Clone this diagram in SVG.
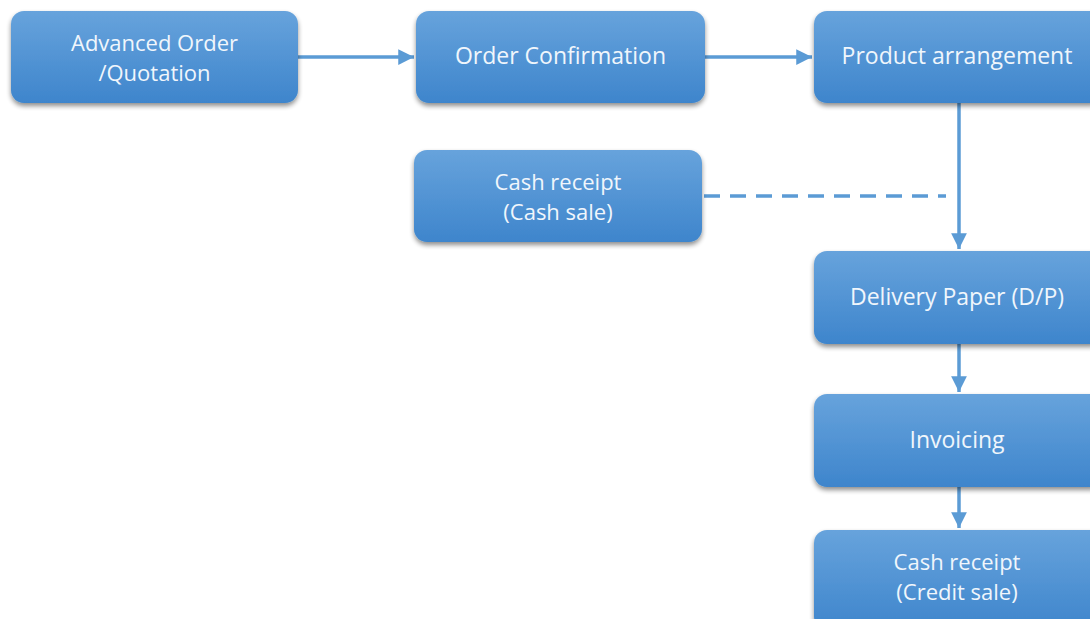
<svg xmlns="http://www.w3.org/2000/svg" width="1090" height="619" viewBox="0 0 1090 619">
<defs>
<linearGradient id="g" x1="0" y1="0" x2="0" y2="1">
<stop offset="0" stop-color="#67a3dc"/>
<stop offset="1" stop-color="#3e85cc"/>
</linearGradient>
<filter id="sh" x="-10%" y="-10%" width="120%" height="140%">
<feGaussianBlur in="SourceAlpha" stdDeviation="2.5"/>
<feOffset dx="0" dy="3" result="b"/>
<feComponentTransfer><feFuncA type="linear" slope="0.45"/></feComponentTransfer>
<feMerge><feMergeNode/><feMergeNode in="SourceGraphic"/></feMerge>
</filter>
<marker id="ah" viewBox="0 0 10 10" refX="10" refY="5" markerWidth="4.5" markerHeight="4.5" orient="auto" markerUnits="strokeWidth">
<path d="M0,0 L10,5 L0,10 z" fill="#5b9bd5"/>
</marker>
</defs>
<style>
.box{fill:url(#g);filter:url(#sh);}
.t{font-family:"Open Sans","Noto Sans",sans-serif;font-size:23px;fill:#f0f6fc;text-anchor:middle;}
.s{font-size:22px;}
.c{stroke:#5b9bd5;stroke-width:3.5;fill:none;}
</style>
<rect width="1090" height="619" fill="#ffffff"/>
<g id="connectors">
<line class="c" x1="298" y1="57" x2="414" y2="57" marker-end="url(#ah)"/>
<line class="c" x1="705" y1="57" x2="812" y2="57" marker-end="url(#ah)"/>
<line class="c" x1="959" y1="103" x2="959" y2="249" marker-end="url(#ah)"/>
<line class="c" x1="959" y1="344" x2="959" y2="392" marker-end="url(#ah)"/>
<line class="c" x1="959" y1="487" x2="959" y2="528" marker-end="url(#ah)"/>
<line class="c" x1="704" y1="196" x2="946" y2="196" stroke-width="4.5" stroke-dasharray="16,10"/>
</g>
<g id="n1"><rect class="box" x="11" y="11" width="287" height="92" rx="13"/>
<text class="t s" x="154.5" y="51">Advanced Order</text><text class="t s" x="154.5" y="81">/Quotation</text></g>
<g id="n2"><rect class="box" x="416" y="11" width="289" height="92" rx="13"/>
<text class="t" x="560.5" y="64">Order Confirmation</text></g>
<g id="n3"><rect class="box" x="814" y="11" width="290" height="92" rx="13"/>
<text class="t" x="957" y="64">Product arrangement</text></g>
<g id="n4"><rect class="box" x="414" y="150" width="288" height="92" rx="13"/>
<text class="t s" x="558" y="190">Cash receipt</text><text class="t s" x="558" y="220">(Cash sale)</text></g>
<g id="n5"><rect class="box" x="814" y="251" width="290" height="93" rx="13"/>
<text class="t" x="957" y="305">Delivery Paper (D/P)</text></g>
<g id="n6"><rect class="box" x="814" y="394" width="290" height="93" rx="13"/>
<text class="t" x="957" y="448">Invoicing</text></g>
<g id="n7"><rect class="box" x="814" y="530" width="290" height="100" rx="13"/>
<text class="t s" x="957" y="570">Cash receipt</text><text class="t s" x="957" y="600">(Credit sale)</text></g>
</svg>
